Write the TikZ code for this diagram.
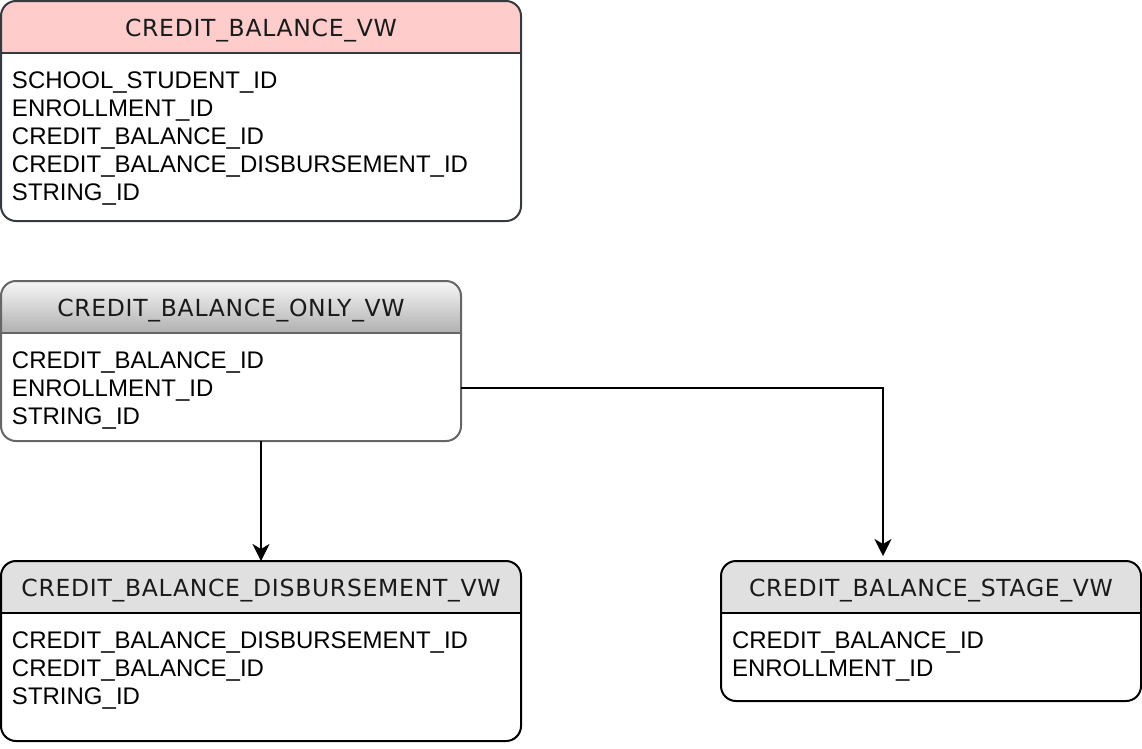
\documentclass[tikz,border=0pt]{standalone}
\usepackage{fontspec}
\setmainfont{Liberation Sans}
\newfontfamily\ttlfont[LetterSpace=3]{DejaVu Sans}
\usetikzlibrary{arrows.meta,backgrounds}

\definecolor{cbPink}{HTML}{FFCCCC}
\definecolor{cbDark}{HTML}{36393D}
\definecolor{cbGray}{HTML}{666666}
\definecolor{hdGray}{HTML}{E0E0E0}
\definecolor{gradTop}{HTML}{F7F7F7}
\definecolor{gradBot}{HTML}{B0B0B0}
\definecolor{ttlText}{HTML}{1A1A1A}

\begin{document}
\begin{tikzpicture}[x=1pt, y=-1pt,
  every node/.style={inner sep=0pt, outer sep=0pt},
  tbl/.style={draw, line width=2pt, rectangle, rounded corners=15pt, anchor=north west},
  ttl/.style={font=\ttlfont\fontsize{23.5}{28}\selectfont, text=ttlText,
              text height=17pt, text depth=0pt},
  fld/.style={font=\fontsize{24}{28}\selectfont, anchor=base west,
              text height=17pt, text depth=0pt},
  hdl/.style={line width=2pt},
  ar/.style={-{Stealth[length=17pt, width=17pt, inset=5pt]}, line width=2pt}]

\useasboundingbox (0,0) rectangle (1142,748);

%% --- Tables ---
\node[tbl, draw=cbDark, minimum width=520pt, minimum height=220pt] (CBVW)  at (1,1)   {};
\node[tbl, draw=cbGray, minimum width=460pt, minimum height=160pt] (ONLY)  at (1,281) {};
\node[tbl, draw=black,  minimum width=520pt, minimum height=180pt] (DISB)  at (1,561) {};
\node[tbl, draw=black,  minimum width=420pt, minimum height=140pt] (STAGE) at (721,561) {};

%% --- Header fills ---
\begin{scope}[on background layer]
  \begin{scope}
    \clip[rounded corners=15pt] (CBVW.north west) rectangle (CBVW.south east);
    \fill[cbPink] (CBVW.north west) rectangle ([yshift=-52pt]CBVW.north east);
  \end{scope}
  \begin{scope}
    \clip[rounded corners=15pt] (ONLY.north west) rectangle (ONLY.south east);
    \shade[top color=gradTop, bottom color=gradBot] (ONLY.north west) rectangle ([yshift=-52pt]ONLY.north east);
  \end{scope}
  \begin{scope}
    \clip[rounded corners=15pt] (DISB.north west) rectangle (DISB.south east);
    \fill[hdGray] (DISB.north west) rectangle ([yshift=-52pt]DISB.north east);
  \end{scope}
  \begin{scope}
    \clip[rounded corners=15pt] (STAGE.north west) rectangle (STAGE.south east);
    \fill[hdGray] (STAGE.north west) rectangle ([yshift=-52pt]STAGE.north east);
  \end{scope}
\end{scope}

%% --- Header lines ---
\draw[hdl, cbDark] ([yshift=-52pt]CBVW.north west)  -- ([yshift=-52pt]CBVW.north east);
\draw[hdl, cbGray] ([yshift=-52pt]ONLY.north west)  -- ([yshift=-52pt]ONLY.north east);
\draw[hdl, black]  ([yshift=-52pt]DISB.north west)  -- ([yshift=-52pt]DISB.north east);
\draw[hdl, black]  ([yshift=-52pt]STAGE.north west) -- ([yshift=-52pt]STAGE.north east);

%% --- Titles ---
\node[ttl] (CBVW-t)  at ([yshift=-27pt]CBVW.north)  {CREDIT\_BALANCE\_VW};
\node[ttl] (ONLY-t)  at ([yshift=-27pt]ONLY.north)  {CREDIT\_BALANCE\_ONLY\_VW};
\node[ttl] (DISB-t)  at ([yshift=-27pt]DISB.north)  {CREDIT\_BALANCE\_DISBURSEMENT\_VW};
\node[ttl] (STAGE-t) at ([yshift=-27pt]STAGE.north) {CREDIT\_BALANCE\_STAGE\_VW};

%% --- Fields ---
\foreach \f [count=\i] in {SCHOOL\_STUDENT\_ID, ENROLLMENT\_ID, CREDIT\_BALANCE\_ID,
                           CREDIT\_BALANCE\_DISBURSEMENT\_ID, STRING\_ID}
  \node[fld] (CBVW-f\i) at ([xshift=11pt, yshift={-87pt-(\i-1)*28pt}]CBVW.north west) {\f};
\foreach \f [count=\i] in {CREDIT\_BALANCE\_ID, ENROLLMENT\_ID, STRING\_ID}
  \node[fld] (ONLY-f\i) at ([xshift=11pt, yshift={-87pt-(\i-1)*28pt}]ONLY.north west) {\f};
\foreach \f [count=\i] in {CREDIT\_BALANCE\_DISBURSEMENT\_ID, CREDIT\_BALANCE\_ID, STRING\_ID}
  \node[fld] (DISB-f\i) at ([xshift=11pt, yshift={-87pt-(\i-1)*28pt}]DISB.north west) {\f};
\foreach \f [count=\i] in {CREDIT\_BALANCE\_ID, ENROLLMENT\_ID}
  \node[fld] (STAGE-f\i) at ([xshift=11pt, yshift={-87pt-(\i-1)*28pt}]STAGE.north west) {\f};

%% --- Arrows ---
\draw[ar] (ONLY.south -| DISB.north) -- (DISB.north);
\draw[ar] (ONLY.east |- ONLY-f2) -| ([xshift=-48pt, yshift=5pt]STAGE.north);
\end{tikzpicture}
\end{document}
